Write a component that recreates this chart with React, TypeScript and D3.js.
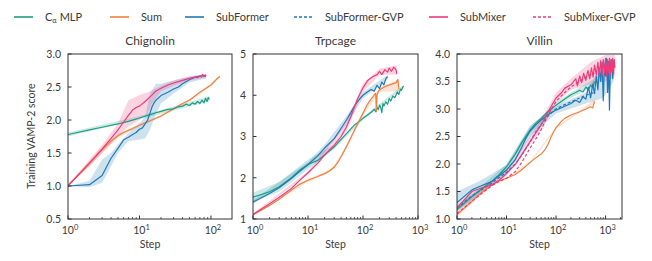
import React from "react";
import * as d3 from "d3";

type Pt = [number, number];
type Band = [number, number, number];

const COLORS = {
  mlp: "#1b9e85",
  sum: "#f07f3c",
  subformer: "#1f78b8",
  submixer: "#ec3b7b",
};

const legendItems = [
  { key: "mlp", label: "MLP", alpha: true, dashed: false },
  { key: "sum", label: "Sum", alpha: false, dashed: false },
  { key: "subformer", label: "SubFormer", alpha: false, dashed: false },
  { key: "subformer", label: "SubFormer-GVP", alpha: false, dashed: true },
  { key: "submixer", label: "SubMixer", alpha: false, dashed: false },
  { key: "submixer", label: "SubMixer-GVP", alpha: false, dashed: true },
];

// ---------- Chignolin ----------
const chigMlp: Pt[] = [[1,1.78],[2,1.85],[3,1.89],[5,1.94],[7,1.98],[10,2.03],[13,2.07],[17,2.11],[20,2.13],[25,2.16],[30,2.17],[35,2.2],[40,2.21],[45,2.24],[50,2.22],[55,2.26],[60,2.24],[65,2.28],[70,2.25],[75,2.3],[80,2.26],[84,2.33],[88,2.28],[92,2.34],[95,2.31]];
const chigSum: Pt[] = [[1,1.01],[2,1.34],[3,1.55],[4,1.68],[5,1.76],[6,1.81],[8,1.87],[10,1.92],[15,2.0],[20,2.06],[30,2.17],[40,2.25],[50,2.3],[70,2.42],[100,2.53],[120,2.62],[133,2.66]];
const chigSubFormer: Pt[] = [[1,1.0],[2,1.02],[3,1.16],[4,1.42],[5,1.57],[6,1.7],[7,1.74],[8,1.78],[9,1.81],[10,1.86],[11,1.88],[12,1.94],[13,2.0],[14,2.1],[15,2.2],[16,2.26],[17,2.3],[20,2.37],[25,2.42],[30,2.47],[35,2.5],[40,2.55],[50,2.61],[60,2.65],[70,2.66],[80,2.67],[85,2.66]];
const chigSubMixer: Pt[] = [[1,1.0],[2,1.35],[3,1.56],[4,1.72],[5,1.85],[6,1.97],[7,2.07],[8,2.15],[9,2.19],[10,2.21],[12,2.28],[15,2.38],[17,2.44],[20,2.48],[25,2.53],[30,2.56],[40,2.6],[50,2.63],[60,2.65],[65,2.64],[70,2.67],[73,2.65],[76,2.69],[80,2.66],[83,2.68],[86,2.67]];
const chigMlpBand: Band[] = [[1,1.75,1.81],[10,2.01,2.06],[95,2.28,2.36]];
const chigSumBand: Band[] = [[1,1.0,1.03],[2,1.3,1.38],[3,1.5,1.6],[5,1.73,1.79],[10,1.9,1.94],[20,2.04,2.08],[50,2.28,2.32],[100,2.51,2.55],[133,2.64,2.68]];
const chigSubFormerBand: Band[] = [[1,1.0,1.0],[2,0.98,1.08],[3,1.05,1.4],[4,1.3,1.5],[5,1.5,1.63],[7,1.68,1.8],[10,1.7,1.95],[12,1.72,2.05],[14,1.85,2.4],[17,2.1,2.55],[20,2.25,2.55],[30,2.4,2.6],[50,2.57,2.66],[85,2.63,2.69]];
const chigSubMixerBand: Band[] = [[1,1.0,1.0],[2,1.3,1.4],[3,1.5,1.62],[5,1.75,1.95],[7,1.9,2.3],[10,2.0,2.38],[13,2.1,2.42],[15,2.25,2.45],[20,2.43,2.52],[30,2.52,2.6],[50,2.6,2.66],[86,2.64,2.7]];

// ---------- Trpcage ----------
const trpMlp: Pt[] = [[1,1.53],[2,1.66],[3,1.78],[5,2.0],[7,2.18],[10,2.32],[15,2.42],[20,2.55],[30,2.75],[40,2.93],[50,3.07],[70,3.28],[100,3.44],[130,3.55],[150,3.62],[160,3.66],[170,3.6],[180,3.7],[190,3.65],[200,3.76],[210,3.7],[220,3.58],[230,3.8],[240,3.74],[260,3.84],[280,3.78],[300,3.92],[320,3.86],[350,3.98],[380,3.94],[420,4.08],[450,4.02],[480,4.15],[500,4.12],[530,4.2],[550,4.22]];
const trpSum: Pt[] = [[1,1.1],[2,1.33],[3,1.48],[5,1.7],[7,1.84],[10,1.94],[15,2.03],[20,2.1],[25,2.17],[30,2.26],[35,2.38],[40,2.51],[50,2.75],[60,2.97],[70,3.15],[85,3.38],[100,3.56],[120,3.78],[150,3.96],[170,4.05],[175,3.6],[180,4.0],[190,4.1],[200,4.13],[230,4.18],[260,4.22],[300,4.25],[350,4.28],[400,4.3],[430,4.38],[450,4.15]];
const trpSubFormer: Pt[] = [[1,1.41],[2,1.62],[3,1.76],[5,1.98],[7,2.15],[10,2.32],[15,2.53],[20,2.72],[30,2.95],[40,3.2],[50,3.4],[60,3.58],[70,3.74],[80,3.85],[100,4.0],[120,4.08],[140,4.14],[160,4.1],[180,4.24],[200,4.16],[220,4.32],[240,4.25],[260,4.4],[280,4.45]];
const trpSubMixer: Pt[] = [[1,1.11],[2,1.37],[3,1.53],[5,1.74],[7,1.93],[10,2.12],[15,2.35],[20,2.55],[30,2.79],[40,3.0],[50,3.23],[60,3.48],[70,3.72],[80,3.92],[100,4.18],[120,4.35],[150,4.45],[180,4.5],[200,4.58],[220,4.5],[250,4.62],[280,4.56],[300,4.66],[330,4.58],[360,4.68],[400,4.62],[410,4.52]];
const trpMlpBand: Band[] = [[1,1.42,1.64],[3,1.66,1.9],[10,2.2,2.44],[30,2.7,2.8],[100,3.4,3.48],[550,4.18,4.26]];
const trpSumBand: Band[] = [[1,1.08,1.12],[10,1.9,1.98],[20,2.07,2.13],[30,2.22,2.3],[50,2.7,2.8],[70,3.1,3.2],[100,3.5,3.62],[200,4.08,4.18],[450,4.1,4.4]];
const trpSubFormerBand: Band[] = [[1,1.36,1.46],[10,2.26,2.38],[20,2.62,2.8],[50,3.3,3.5],[100,3.93,4.07],[280,4.38,4.5]];
const trpSubMixerBand: Band[] = [[1,1.09,1.13],[10,2.08,2.16],[50,3.12,3.34],[100,4.08,4.28],[200,4.5,4.65],[410,4.5,4.72]];

// ---------- Villin ----------
const vilMlp: Pt[] = [[1,1.17],[2,1.41],[3,1.53],[5,1.68],[7,1.8],[10,1.95],[15,2.18],[20,2.38],[30,2.62],[40,2.75],[50,2.83],[70,2.96],[100,3.07],[150,3.18],[200,3.26],[250,3.3],[300,3.34],[350,3.31],[400,3.4],[450,3.35],[500,3.44],[550,3.39],[600,3.5]];
const vilSum: Pt[] = [[1,1.08],[2,1.32],[3,1.47],[4,1.56],[5,1.62],[7,1.69],[10,1.74],[15,1.81],[20,1.89],[30,2.03],[40,2.12],[50,2.18],[60,2.26],[70,2.37],[80,2.5],[100,2.66],[130,2.78],[150,2.83],[200,2.89],[300,2.95],[400,3.0],[500,3.04],[550,3.02],[600,3.14]];
const vilSubFormer: Pt[] = [[1,1.3],[2,1.53],[3,1.6],[5,1.68],[7,1.78],[10,1.89],[15,2.08],[20,2.29],[25,2.48],[30,2.6],[40,2.72],[50,2.8],[70,2.9],[100,2.98],[150,3.05],[200,3.1],[250,3.16],[300,3.12],[350,3.22],[400,3.18],[450,3.4],[500,3.2],[550,3.45],[600,3.28],[650,3.6],[700,3.35],[750,3.75],[800,3.5],[850,3.85],[900,3.15],[950,3.8],[1000,3.6],[1050,3.92],[1100,3.3],[1150,3.86],[1200,2.98],[1250,3.7],[1300,3.9],[1400,3.55],[1450,3.88]];
const vilSubFormerGvp: Pt[] = [[1,1.2],[2,1.42],[3,1.52],[5,1.65],[7,1.75],[10,1.85],[15,2.0],[20,2.15],[30,2.4],[40,2.6],[50,2.72],[70,2.88],[100,3.0],[150,3.08],[200,3.13],[300,3.2],[400,3.25],[500,3.28],[600,3.3]];
const vilSubMixer: Pt[] = [[1,1.2],[2,1.5],[3,1.56],[5,1.62],[7,1.7],[10,1.83],[15,1.99],[20,2.16],[30,2.41],[40,2.58],[50,2.71],[70,2.96],[100,3.2],[130,3.3],[150,3.38],[200,3.44],[250,3.55],[270,3.42],[300,3.6],[330,3.48],[360,3.65],[400,3.52],[440,3.7],[480,3.55],[520,3.75],[560,3.58],[600,3.8],[650,3.62],[700,3.85],[750,3.6],[800,3.88],[850,3.62],[900,3.9],[950,3.66],[1000,3.92],[1050,3.6],[1100,3.9],[1150,3.66],[1200,3.92],[1250,3.62],[1300,3.9],[1350,3.68],[1400,3.92],[1450,3.64],[1500,3.9],[1550,3.75]];
const vilSubMixerGvp: Pt[] = [[1,1.1],[2,1.32],[3,1.45],[5,1.6],[7,1.68],[10,1.74],[15,1.86],[20,2.02],[30,2.29],[40,2.47],[50,2.62],[70,2.9],[100,3.14],[150,3.3],[200,3.4],[300,3.5],[400,3.58],[500,3.62],[600,3.65]];
const vilSubFormerBand: Band[] = [[1,1.15,1.5],[3,1.45,1.7],[10,1.8,1.98],[30,2.5,2.7],[100,2.92,3.05],[400,3.1,3.3],[900,3.2,3.85],[1450,3.5,3.9]];
const vilMlpBand: Band[] = [[1,1.12,1.22],[10,1.9,2.0],[30,2.55,2.68],[100,3.02,3.12],[200,3.2,3.3],[600,3.42,3.56]];
const vilSubMixerBand: Band[] = [[1,1.15,1.25],[10,1.78,1.88],[50,2.62,2.8],[100,3.1,3.3],[200,3.35,3.55],[500,3.45,3.85],[1000,3.5,3.98],[1550,3.6,3.98]];
const vilSumBand: Band[] = [[1,1.03,1.13],[2,1.28,1.36],[5,1.6,1.65],[10,1.72,1.76],[30,2.01,2.05],[100,2.64,2.68],[300,2.93,2.97],[600,3.1,3.18]];

type Series = { data: Pt[]; color: string; dashed?: boolean };
type BandS = { data: Band[]; color: string };

const panels = [
  {
    title: "Chignolin",
    x0: 68, x1: 232, xMax: 197,
    yDomain: [0.5, 3] as [number, number],
    yTicks: [0.5, 1.0, 1.5, 2.0, 2.5, 3.0],
    yFmt: ".1f",
    xTicks: [1, 10, 100],
    bands: [
      { data: chigMlpBand, color: COLORS.mlp },
      { data: chigSumBand, color: COLORS.sum },
      { data: chigSubFormerBand, color: COLORS.subformer },
      { data: chigSubMixerBand, color: COLORS.submixer },
    ] as BandS[],
    series: [
      { data: chigSum, color: COLORS.sum },
      { data: chigMlp, color: COLORS.mlp },
      { data: chigSubFormer, color: COLORS.subformer },
      { data: chigSubMixer, color: COLORS.submixer },
    ] as Series[],
  },
  {
    title: "Trpcage",
    x0: 253, x1: 418, xMax: 1000,
    yDomain: [1, 5] as [number, number],
    yTicks: [1, 2, 3, 4, 5],
    yFmt: "d",
    xTicks: [1, 10, 100, 1000],
    bands: [
      { data: trpMlpBand, color: COLORS.mlp },
      { data: trpSumBand, color: COLORS.sum },
      { data: trpSubFormerBand, color: COLORS.subformer },
      { data: trpSubMixerBand, color: COLORS.submixer },
    ] as BandS[],
    series: [
      { data: trpMlp, color: COLORS.mlp },
      { data: trpSum, color: COLORS.sum },
      { data: trpSubFormer, color: COLORS.subformer },
      { data: trpSubMixer, color: COLORS.submixer },
    ] as Series[],
  },
  {
    title: "Villin",
    x0: 457, x1: 622, xMax: 2150,
    yDomain: [1, 4] as [number, number],
    yTicks: [1.0, 1.5, 2.0, 2.5, 3.0, 3.5, 4.0],
    yFmt: ".1f",
    xTicks: [1, 10, 100, 1000],
    bands: [
      { data: vilSubFormerBand, color: COLORS.subformer },
      { data: vilMlpBand, color: COLORS.mlp },
      { data: vilSumBand, color: COLORS.sum },
      { data: vilSubMixerBand, color: COLORS.submixer },
    ] as BandS[],
    series: [
      { data: vilSum, color: COLORS.sum },
      { data: vilMlp, color: COLORS.mlp },
      { data: vilSubFormerGvp, color: COLORS.subformer, dashed: true },
      { data: vilSubFormer, color: COLORS.subformer },
      { data: vilSubMixerGvp, color: COLORS.submixer, dashed: true },
      { data: vilSubMixer, color: COLORS.submixer },
    ] as Series[],
  },
];

const TOP = 54;
const BOTTOM = 219;
const FONT = "Lato, 'DejaVu Sans', sans-serif";
const TEXT = "#3a3a3a";

const Panel = ({ p, idx }: { p: (typeof panels)[number]; idx: number }) => {
  const x = d3.scaleLog().domain([1, p.xMax]).range([p.x0, p.x1]);
  const y = d3.scaleLinear().domain(p.yDomain).range([BOTTOM, TOP]);
  const line = d3.line<Pt>().x((d) => x(d[0])).y((d) => y(d[1]));
  const area = d3
    .area<Band>()
    .x((d) => x(d[0]))
    .y0((d) => y(d[1]))
    .y1((d) => y(d[2]));
  const fmt = d3.format(p.yFmt);
  const minor: number[] = [];
  for (let dec = 1; dec < p.xMax; dec *= 10) {
    for (let m = 2; m < 10; m++) {
      if (dec * m <= p.xMax) minor.push(dec * m);
    }
  }
  const clipId = `clip-${idx}`;
  return (
    <g>
      <defs>
        <clipPath id={clipId}>
          <rect x={p.x0} y={TOP} width={p.x1 - p.x0} height={BOTTOM - TOP} />
        </clipPath>
      </defs>
      <g clipPath={`url(#${clipId})`}>
        {p.bands.map((b, i) => (
          <path key={i} d={area(b.data) ?? ""} fill={b.color} opacity={0.22} />
        ))}
        {p.series.map((s, i) => (
          <path
            key={i}
            d={line(s.data) ?? ""}
            fill="none"
            stroke={s.color}
            strokeWidth={1.2}
            strokeDasharray={s.dashed ? "3,2" : undefined}
            strokeLinejoin="round"
          />
        ))}
      </g>
      {/* frame */}
      <rect x={p.x0} y={TOP} width={p.x1 - p.x0} height={BOTTOM - TOP} fill="none" stroke="#333" strokeWidth={1} />
      {/* y ticks */}
      {p.yTicks.map((t) => (
        <g key={t}>
          <line x1={p.x0} x2={p.x0 + 3.5} y1={y(t)} y2={y(t)} stroke="#333" />
          <text x={p.x0 - 7} y={y(t) + 3.8} textAnchor="end" fontSize={10.5} fill={TEXT} fontFamily={FONT}>
            {fmt(t)}
          </text>
        </g>
      ))}
      {/* x ticks */}
      {minor.map((t) => (
        <line key={t} x1={x(t)} x2={x(t)} y1={BOTTOM} y2={BOTTOM - 2} stroke="#333" strokeWidth={0.8} />
      ))}
      {p.xTicks.map((t) => (
        <g key={t}>
          <line x1={x(t)} x2={x(t)} y1={BOTTOM} y2={BOTTOM - 3.5} stroke="#333" />
          <text x={x(t) + 2} y={BOTTOM + 15} textAnchor="middle" fontSize={10.5} fill={TEXT} fontFamily={FONT}>
            10
            <tspan fontSize={7.5} dy={-4}>
              {Math.round(Math.log10(t))}
            </tspan>
          </text>
        </g>
      ))}
      <text x={(p.x0 + p.x1) / 2} y={45} textAnchor="middle" fontSize={12} fill={TEXT} fontFamily={FONT}>
        {p.title}
      </text>
      <text x={(p.x0 + p.x1) / 2} y={248} textAnchor="middle" fontSize={10.5} fill={TEXT} fontFamily={FONT}>
        Step
      </text>
    </g>
  );
};

const legendX = [14, 110, 185, 294, 429, 533];

const App = () => {
  return (
    <svg width={652} height={261} style={{ position: "absolute", left: 0, top: 0, background: "#fff" }}>
      {/* legend */}
      {legendItems.map((it, i) => {
        const c = (COLORS as any)[it.key];
        const lx = legendX[i];
        return (
          <g key={i}>
            <line
              x1={lx}
              x2={lx + 19}
              y1={17}
              y2={17}
              stroke={c}
              strokeWidth={1.6}
              strokeDasharray={it.dashed ? "3,2" : undefined}
            />
            <text x={lx + 31} y={21} fontSize={11} fill={TEXT} fontFamily={FONT}>
              {it.alpha ? (
                <>
                  C<tspan fontSize={7.5} dy={2}>α</tspan>
                  <tspan dy={-2}> {it.label}</tspan>
                </>
              ) : (
                it.label
              )}
            </text>
          </g>
        );
      })}
      <text
        transform="translate(35,136) rotate(-90)"
        textAnchor="middle"
        fontSize={10.5}
        fill={TEXT}
        fontFamily={FONT}
      >
        Training VAMP-2 score
      </text>
      {panels.map((p, i) => (
        <Panel key={p.title} p={p} idx={i} />
      ))}
    </svg>
  );
};

export default App;
